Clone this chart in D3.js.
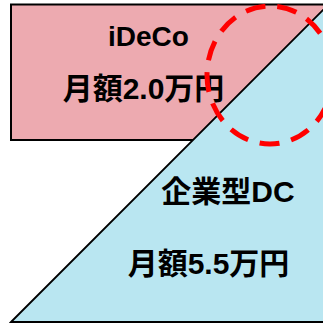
<!DOCTYPE html>
<html>
<head>
<meta charset="utf-8">
<script src="https://cdn.jsdelivr.net/npm/d3@7"></script>
<style>
  html, body { margin: 0; padding: 0; background: #ffffff; }
  svg { display: block; }
</style>
</head>
<body>
<script>
// ---- data ----
const plans = ["iDeCo", "企業型DC"];
const monthlyAmounts = [2.0, 5.5];   // 万円 per month
const amountPrefix = "月額";
const amountUnit = "万円";
const planColors = ["#EDAAB0", "#B9E6F1"];

// ---- layout ----
const W = 323, H = 323;
const svg = d3.select("body").append("svg").attr("width", W).attr("height", H);

// unit scales (0..1 across the canvas)
const x = d3.scaleLinear().domain([0, 1]).range([0, W]);
const y = d3.scaleLinear().domain([0, 1]).range([0, H]);

const font = "'Liberation Sans', 'Noto Sans CJK JP', Arial, sans-serif";

// iDeCo rectangle (extends past the right edge)
svg.append("rect")
  .attr("x", x(11 / W)).attr("y", y(4.5 / H))
  .attr("width", x(1) - x(11 / W) + 20).attr("height", y(135.5 / H))
  .attr("fill", planColors[0]).attr("stroke", "#000").attr("stroke-width", 2);

// corporate DC triangle
const tri = [[11, 322], [335, -2], [335, 322]].map(p => [x(p[0] / W), y(p[1] / H)]);
svg.append("path")
  .attr("d", d3.line()(tri) + "Z")
  .attr("fill", planColors[1]).attr("stroke", "#000").attr("stroke-width", 1.8);

// labels
const labelPos = [
  { name: [148.5, 46, 28], amt: [143.5, 99, 30] },
  { name: [228, 202, 30], amt: [208.5, 274, 30] }
];
plans.forEach((p, i) => {
  svg.append("text")
    .attr("x", x(labelPos[i].name[0] / W)).attr("y", y(labelPos[i].name[1] / H))
    .attr("text-anchor", "middle")
    .attr("font-family", font)
    .attr("font-weight", "bold").attr("font-size", labelPos[i].name[2])
    .attr("fill", "#000")
    .text(p);
  svg.append("text")
    .attr("x", x(labelPos[i].amt[0] / W)).attr("y", y(labelPos[i].amt[1] / H))
    .attr("text-anchor", "middle")
    .attr("font-family", font)
    .attr("font-weight", "bold").attr("font-size", labelPos[i].amt[2])
    .attr("fill", "#000")
    .text(amountPrefix + d3.format(".1f")(monthlyAmounts[i]) + amountUnit);
});

// red dashed highlight ellipse
svg.append("ellipse")
  .attr("cx", x(270 / W)).attr("cy", y(75 / H))
  .attr("rx", 63).attr("ry", 69)
  .attr("fill", "none").attr("stroke", "#FF0000")
  .attr("stroke-width", 5).attr("stroke-dasharray", "20 12")
  .attr("stroke-dashoffset", 2);
</script>
</body>
</html>
